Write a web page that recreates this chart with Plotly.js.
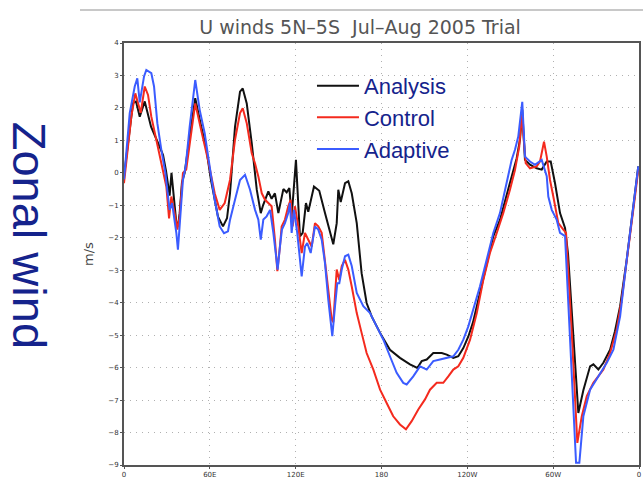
<!DOCTYPE html>
<html>
<head>
<meta charset="utf-8">
<script src="https://cdn.plot.ly/plotly-3.0.1.min.js"></script>
<style>html,body{margin:0;padding:0;background:#fff;}#chart{width:643px;height:480px;}</style>
</head>
<body>
<div id="chart"></div>
<script>
// Longitude (degrees east, 0-360) and zonal wind (m/s) for each series
var lonAnalysis = [0,6.3,8.4,11.0,14.5,18.9,23.8,27.3,29.4,30.8,31.9,33.2,35.0,36.6,37.7,38.9,40.5,42.4,45.9,49.8,54.0,57.3,60.8,65.7,69.2,72.0,74.1,77.6,81.1,83.0,85.8,89.3,92.8,95.6,97.2,100.9,103.2,105.5,107.9,111.4,113.7,115.6,117.2,120.2,123.0,124.9,127.2,128.8,132.8,134.7,136.5,140.5,145.2,146.3,148.7,149.8,151.5,154.5,156.8,159.2,162.7,166.1,169.6,173.1,179.0,185.9,192.9,199.9,205.0,208.1,211.6,216.2,222.1,225.6,230.2,233.7,237.2,240.7,244.0,248.8,253.5,258.1,262.8,267.5,271.0,274.5,276.8,278.4,280.3,283.8,288.5,292.0,295.5,298.3,301.3,304.8,308.3,310.4,314.1,316.0,317.6,321.1,325.8,328.1,331.6,335.1,339.8,343.2,346.8,351.4,356.0,359.5];
var uAnalysis   = [-0.1,2.15,2.2,1.73,2.2,1.42,0.92,0.55,0.05,-0.42,-0.7,0.0,-0.8,-1.55,-1.65,-1.25,-0.3,0.0,1.12,2.3,1.42,0.8,-0.22,-1.35,-1.65,-1.4,-0.63,1.42,2.5,2.6,2.14,0.91,-0.52,-1.24,-1.0,-0.57,-0.8,-0.63,-1.24,-0.5,-0.6,-0.47,-1.34,0.4,-1.96,-1.85,-0.93,-1.2,-0.42,-0.5,-0.55,-1.24,-2.06,-2.2,-1.55,-0.52,-0.9,-0.32,-0.26,-0.63,-1.55,-3.09,-4.01,-4.42,-4.93,-5.45,-5.7,-5.9,-6.01,-5.8,-5.75,-5.55,-5.55,-5.6,-5.7,-5.65,-5.4,-5.04,-4.6,-3.7,-2.88,-1.96,-1.45,-0.63,-0.11,0.45,1.02,1.95,0.4,0.25,0.14,0.1,0.35,0.35,-0.32,-1.24,-1.7,-2.5,-5.0,-6.6,-7.4,-6.7,-5.96,-5.9,-6.06,-5.85,-5.45,-4.88,-4.11,-2.68,-1.03,0.2];

var lonControl = [0,5.1,7.9,9.8,11.7,14.5,16.8,19.1,22.6,26.1,27.8,29.6,31.5,33.1,35.4,37.3,38.9,41.2,43.5,46.6,49.8,54.0,58.7,63.4,66.9,70.4,72.7,74.1,77.6,81.1,83.0,85.8,89.3,91.6,93.9,96.3,98.6,100.9,103.2,105.5,107.2,109.0,110.2,112.5,114.8,116.5,117.9,119.5,121.8,124.2,126.5,128.8,131.2,133.5,135.8,138.2,140.5,142.8,145.2,146.3,147.5,148.7,150.5,152.2,154.5,156.8,159.2,162.7,166.1,169.6,174.3,179.0,183.6,188.2,192.9,197.1,201.1,205.7,210.4,213.9,218.6,223.2,226.7,230.2,233.7,237.2,241.9,246.6,251.2,255.8,260.5,265.1,269.8,273.3,276.3,278.0,279.1,280.8,283.8,288.5,290.8,293.6,295.5,297.8,300.1,303.6,307.1,309.0,313.0,316.9,320.0,323.5,328.1,335.1,339.8,344.4,347.9,352.6,357.2,359.5];
var uControl   = [-0.32,1.73,2.45,2.17,1.85,2.66,2.4,1.73,1.02,0.3,0.0,-0.42,-1.4,-0.73,-1.24,-1.75,-1.35,0.0,0.1,1.12,2.14,1.3,0.4,-0.63,-1.14,-0.93,-0.42,-0.22,1.02,1.84,1.99,1.53,0.6,0.29,-0.11,-0.63,-0.83,-0.93,-1.03,-2.06,-3.03,-2.27,-1.65,-1.44,-1.03,-0.83,-1.65,-1.03,-1.65,-2.47,-1.85,-2.06,-2.27,-1.55,-1.65,-1.85,-2.68,-3.7,-4.52,-4.6,-3.7,-2.98,-3.3,-2.87,-2.68,-2.98,-3.5,-4.32,-4.93,-5.55,-6.06,-6.68,-7.09,-7.5,-7.75,-7.9,-7.65,-7.29,-6.98,-6.68,-6.47,-6.47,-6.27,-6.06,-5.96,-5.7,-5.14,-4.32,-3.29,-2.47,-1.86,-1.24,-0.52,0.09,0.81,1.8,1.2,0.3,0.14,0.2,0.35,0.96,0.5,-0.22,-0.73,-1.55,-1.75,-1.85,-4.93,-8.32,-7.5,-6.88,-6.47,-6.06,-5.55,-4.83,-3.91,-2.37,-0.73,0.1];

var lonAdaptive = [0,4.0,7.5,9.3,11.0,12.6,14.0,15.6,19.1,21.0,23.3,26.1,28.9,30.8,31.9,33.6,35.4,36.6,37.7,39.6,41.2,43.1,45.9,49.8,52.9,56.4,59.9,63.4,66.9,69.9,72.7,74.1,77.6,81.1,84.6,88.1,91.6,93.9,95.6,97.4,99.7,102.1,104.4,106.2,107.4,109.0,110.4,112.5,114.8,116.0,117.2,118.8,121.1,124.2,126.5,128.1,130.5,133.5,135.8,138.2,140.5,142.8,145.6,147.5,149.1,150.5,152.2,154.5,156.8,159.2,162.7,167.3,172.0,176.6,181.3,185.9,190.6,195.2,197.6,202.2,206.9,211.6,216.2,220.9,225.6,230.2,233.7,237.2,240.7,244.2,248.8,253.5,258.1,262.8,267.5,271.0,273.3,275.6,278.4,280.3,283.8,287.3,292.0,295.5,296.6,299.0,302.5,304.8,308.3,311.8,314.1,316.0,318.3,321.1,325.8,331.6,337.5,342.1,346.8,351.4,356.0,359.5];
var uAdaptive   = [-0.2,1.84,2.66,2.91,2.17,2.56,2.97,3.17,3.07,2.66,1.53,0.71,0.0,-0.73,-1.14,-0.93,-1.45,-1.86,-2.37,-1.24,-0.22,0.2,1.42,2.86,1.94,1.22,0.2,-0.83,-1.65,-1.86,-1.8,-1.45,-0.83,-0.22,-0.06,-0.52,-1.14,-1.44,-2.06,-1.44,-1.34,-1.14,-1.85,-2.57,-2.98,-2.27,-1.75,-1.55,-1.24,-0.93,-1.85,-1.14,-1.85,-3.19,-2.27,-2.16,-2.47,-1.65,-1.75,-2.06,-2.78,-3.91,-5.03,-4.11,-3.4,-3.4,-2.98,-2.57,-2.52,-2.87,-3.7,-4.11,-4.32,-4.73,-5.14,-5.65,-6.16,-6.47,-6.52,-6.27,-5.96,-6.06,-5.8,-5.75,-5.7,-5.65,-5.45,-5.14,-4.73,-4.22,-3.5,-2.68,-1.86,-1.24,-0.32,0.4,0.71,1.12,2.19,0.5,0.35,0.25,0.4,-0.1,-0.73,-1.14,-1.45,-1.85,-1.95,-5.03,-7.4,-8.93,-8.93,-7.5,-6.68,-6.27,-5.85,-5.45,-4.42,-2.68,-0.93,0.2];

var xTickVals = [0,60,120,180,240,300,360];
var xTickText = ['0','60E','120E','180','120W','60W','0'];
var yTickVals = [-9,-8,-7,-6,-5,-4,-3,-2,-1,0,1,2,3,4];
var seriesNames = ['Analysis','Control','Adaptive'];

var navy = '#15238c';
var traces = [
  {x: lonAnalysis, y: uAnalysis, name: seriesNames[0], mode:'lines', line:{color:'#111111', width:2}},
  {x: lonControl,  y: uControl,  name: seriesNames[1], mode:'lines', line:{color:'#f42a1e', width:2}},
  {x: lonAdaptive, y: uAdaptive, name: seriesNames[2], mode:'lines', line:{color:'#3b5cff', width:2}}
];

var layout = {
  width: 643, height: 480,
  margin: {l:124, r:4, t:43, b:15},
  paper_bgcolor:'#ffffff', plot_bgcolor:'#ffffff',
  font: {family:'DejaVu Sans, sans-serif', color:'#333'},
  title: {text:'U winds 5N\u20135S  Jul\u2013Aug 2005 Trial', font:{family:'DejaVu Sans, sans-serif', size:19, color:'#555'},
          x: 0.56, xref:'container', xanchor:'center', y: 0.944, yref:'container', yanchor:'middle'},
  xaxis: {range:[0,360], tickvals:xTickVals, ticktext:xTickText, showgrid:true, griddash:'1px,5px', gridcolor:'#b0b0b0', gridwidth:1,
          showline:true, linecolor:'#555', linewidth:2, mirror:true, ticks:'outside', ticklen:2, tickcolor:'#555',
          tickfont:{size:7, color:'#333'}, zeroline:false, fixedrange:true},
  yaxis: {range:[-9,4], tickvals:yTickVals, showgrid:true, griddash:'1px,5px', gridcolor:'#b0b0b0', gridwidth:1,
          showline:true, linecolor:'#555', linewidth:2, mirror:true, ticks:'outside', ticklen:2, tickcolor:'#555',
          tickfont:{size:7, color:'#333'}, zeroline:false, fixedrange:true,
          title:{text:'m/s', font:{size:13, color:'#444'}, standoff:12}},
  showlegend: true,
  legend: {x:0.365, xanchor:'left', y:0.948, yanchor:'top', bgcolor:'rgba(0,0,0,0)', borderwidth:0,
           font:{family:'Liberation Sans, Arial, sans-serif', size:22, color:navy}, itemwidth:42, tracegroupgap:0},
  shapes: [
    {type:'line', xref:'paper', yref:'paper', x0:-0.0854, x1:1.01, y0:1.078, y1:1.078, line:{color:'#c8c8c8', width:2}}
  ],
  annotations: [
    {text:'Zonal wind', xref:'paper', yref:'paper', x:-0.182, y:0.545, xanchor:'center', yanchor:'middle', showarrow:false,
     textangle:90, font:{family:'Liberation Sans, Arial, sans-serif', size:47, color:navy}}
  ]
};

Plotly.newPlot('chart', traces, layout, {displayModeBar:false, staticPlot:true});
</script>
</body>
</html>
